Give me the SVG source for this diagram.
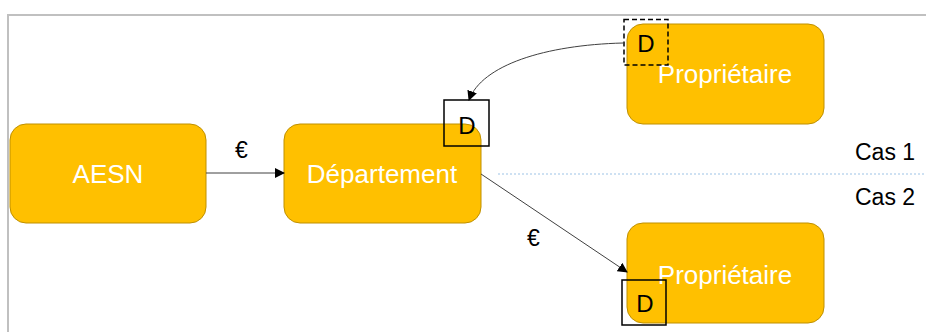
<svg xmlns="http://www.w3.org/2000/svg" width="926" height="332" viewBox="0 0 926 332">
<defs>
<style>
.node{fill:#FFC000;stroke:#BF9000;stroke-width:1}
.nt{font-family:"Liberation Sans",Arial,sans-serif;font-size:26px;fill:#fff;text-anchor:middle}
.lbl{font-family:"Liberation Sans",Arial,sans-serif;font-size:23px;fill:#000}
.dbox{fill:none;stroke:#000;stroke-width:1.5}
.dt{font-family:"Liberation Sans",Arial,sans-serif;font-size:24px;fill:#000;text-anchor:middle}
.conn{fill:none;stroke:#404040;stroke-width:1}
</style>
<marker id="arr" markerWidth="10" markerHeight="10" refX="9" refY="5" orient="auto" markerUnits="userSpaceOnUse">
<path d="M0,0 L10,5 L0,10 z" fill="#000"/>
</marker>
</defs>
<rect width="926" height="332" fill="#fff"/>
<path d="M8,332 V15 H926" fill="none" stroke="#c0c0c0" stroke-width="2"/>
<line x1="498" y1="174" x2="926" y2="174" stroke="#9DC3E6" stroke-width="1" stroke-dasharray="2,2"/>
<text class="lbl" x="855" y="160">Cas 1</text>
<text class="lbl" x="855" y="205">Cas 2</text>
<g id="aesn">
<rect class="node" x="10" y="124" width="196" height="99" rx="16"/>
<text class="nt" x="108" y="183">AESN</text>
</g>
<g id="departement">
<rect class="node" x="284" y="124" width="197" height="99" rx="16"/>
<text class="nt" x="382" y="183">Département</text>
<rect class="dbox" x="444" y="100" width="45" height="46"/>
<text class="dt" x="467" y="134">D</text>
</g>
<g id="proprietaire1">
<rect class="node" x="627" y="24" width="197" height="100" rx="16"/>
<text class="nt" x="725" y="83">Propriétaire</text>
<rect class="dbox" x="624" y="19.5" width="44" height="45.5" stroke-dasharray="5,3"/>
<text class="dt" x="646" y="52">D</text>
</g>
<g id="proprietaire2">
<rect class="node" x="627" y="223" width="197" height="100" rx="16"/>
<text class="nt" x="725" y="284">Propriétaire</text>
<rect class="dbox" x="622" y="280" width="44" height="45"/>
<text class="dt" x="645" y="312">D</text>
</g>
<g id="connectors">
<line class="conn" x1="206" y1="173" x2="284" y2="173" marker-end="url(#arr)"/>
<text class="lbl" x="235" y="158">€</text>
<path class="conn" d="M623,43 C545,45 482,65 469,100" marker-end="url(#arr)"/>
<line class="conn" x1="481" y1="174" x2="627" y2="272" marker-end="url(#arr)"/>
<text class="lbl" x="527" y="246">€</text>
</g>
</svg>
